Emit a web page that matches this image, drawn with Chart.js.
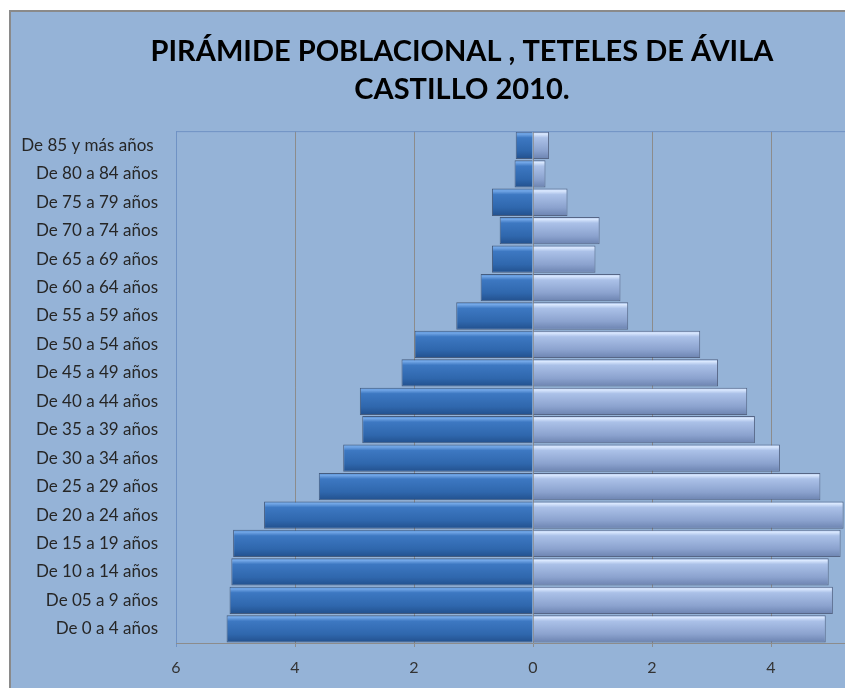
<!DOCTYPE html>
<html>
<head>
<meta charset="utf-8">
<script src="https://cdn.jsdelivr.net/npm/chart.js@4.4.1/dist/chart.umd.min.js"></script>
<style>
  html, body { margin: 0; padding: 0; background: #fff; overflow: hidden; }
  #box {
    position: absolute; left: 9px; top: 10px; width: 900px; height: 700px;
    background: #95b3d7; border-left: 2px solid #8a8a8a; border-top: 2px solid #8a8a8a;
  }
  #box canvas { position: absolute; left: 0; top: 0; }
</style>
</head>
<body>
<div id="box"><canvas id="pyramid" width="900" height="676"></canvas></div>
<script>
const ageGroups = [
  "De 85 y más años ", "De 80 a 84 años", "De 75 a 79 años", "De 70 a 74 años",
  "De 65 a 69 años", "De 60 a 64 años", "De 55 a 59 años", "De 50 a 54 años",
  "De 45 a 49 años", "De 40 a 44 años", "De 35 a 39 años", "De 30 a 34 años",
  "De 25 a 29 años", "De 20 a 24 años", "De 15 a 19 años", "De 10 a 14 años",
  "De 05 a 9 años", "De 0 a 4 años"
];
// left side (dark), shown as negative
const hombres = [0.29, 0.31, 0.69, 0.56, 0.69, 0.88, 1.29, 1.99, 2.21, 2.91, 2.87, 3.19, 3.60, 4.52, 5.04, 5.07, 5.10, 5.15];
// right side (light)
const mujeres = [0.27, 0.21, 0.58, 1.12, 1.05, 1.47, 1.60, 2.81, 3.11, 3.60, 3.73, 4.15, 4.83, 5.22, 5.17, 4.97, 5.04, 4.92];

const FONT = "Lato, 'Open Sans', sans-serif";

// vertical gradient per bar to fake the bevel look
function barGradient(stops) {
  return function (ctx) {
    const chart = ctx.chart;
    if (!chart.chartArea || !chart.scales.y) return stops[2][1];
    const y = chart.scales.y;
    const band = Math.abs(y.getPixelForValue(1) - y.getPixelForValue(0)) * 0.96;
    const yc = y.getPixelForValue(ctx.dataIndex);
    const g = chart.ctx.createLinearGradient(0, yc - band / 2, 0, yc + band / 2);
    stops.forEach(s => g.addColorStop(s[0], s[1]));
    return g;
  };
}

const darkStops = [[0, "#4380c8"], [0.08, "#74a8e8"], [0.22, "#3d78c2"], [0.7, "#2f67ad"], [1, "#22508d"]];
const lightStops = [[0, "#a3bce6"], [0.08, "#dbe9ff"], [0.22, "#abc1e8"], [0.7, "#8ba2ce"], [1, "#6c83b0"]];

const plotFrame = {
  id: "plotFrame",
  afterLayout(chart) {
    // nudge the title a bit right, like the original
    if (chart.titleBlock) chart.titleBlock.left += 23;
  },
  afterDraw(chart) {
    const { ctx, chartArea: a } = chart;
    ctx.save();
    ctx.strokeStyle = "#6f92c4";
    ctx.lineWidth = 1;
    ctx.beginPath();
    ctx.moveTo(a.left, a.top + 0.5);
    ctx.lineTo(a.right, a.top + 0.5);
    ctx.stroke();
    ctx.restore();
  }
};

new Chart(document.getElementById("pyramid"), {
  type: "bar",
  data: {
    labels: ageGroups,
    datasets: [
      {
        label: "Hombres",
        data: hombres.map(v => -v),
        backgroundColor: barGradient(darkStops),
        borderColor: "rgba(35,55,90,0.7)",
        borderWidth: 1,
        barPercentage: 1,
        categoryPercentage: 0.96
      },
      {
        label: "Mujeres",
        data: mujeres,
        backgroundColor: barGradient(lightStops),
        borderColor: "rgba(60,70,100,0.7)",
        borderWidth: 1,
        barPercentage: 1,
        categoryPercentage: 0.96
      }
    ]
  },
  options: {
    indexAxis: "y",
    responsive: false,
    animation: false,
    layout: { padding: { left: 0, right: 21, top: 0, bottom: 0 } },
    scales: {
      x: {
        stacked: true,
        min: -6,
        max: 6,
        ticks: {
          stepSize: 2,
          padding: 11,
          color: "#333",
          font: { family: FONT, size: 16 },
          callback: v => Math.abs(v)
        },
        grid: {
          color: ctx => (ctx.tick && ctx.tick.value === -6 ? "#6f92c4" : "#8c8c8c"),
          lineWidth: 1,
          tickLength: 4,
          drawTicks: true
        },
        border: { color: "#8c8c8c" },
        afterFit: s => { s.height = 45; }
      },
      y: {
        stacked: true,
        ticks: {
          color: "#262626",
          padding: 10,
          font: { family: FONT, size: 17 }
        },
        grid: { display: false },
        border: { display: false },
        afterFit: s => { s.width = 165; }
      }
    },
    plugins: {
      legend: { display: false },
      tooltip: { enabled: false },
      title: {
        display: true,
        text: ["PIRÁMIDE POBLACIONAL , TETELES DE ÁVILA", "CASTILLO 2010."],
        color: "#000",
        font: { family: FONT, size: 29, weight: "bold", lineHeight: 1.33 },
        padding: { top: 20, bottom: 22 }
      }
    }
  },
  plugins: [plotFrame]
});
</script>
</body>
</html>
